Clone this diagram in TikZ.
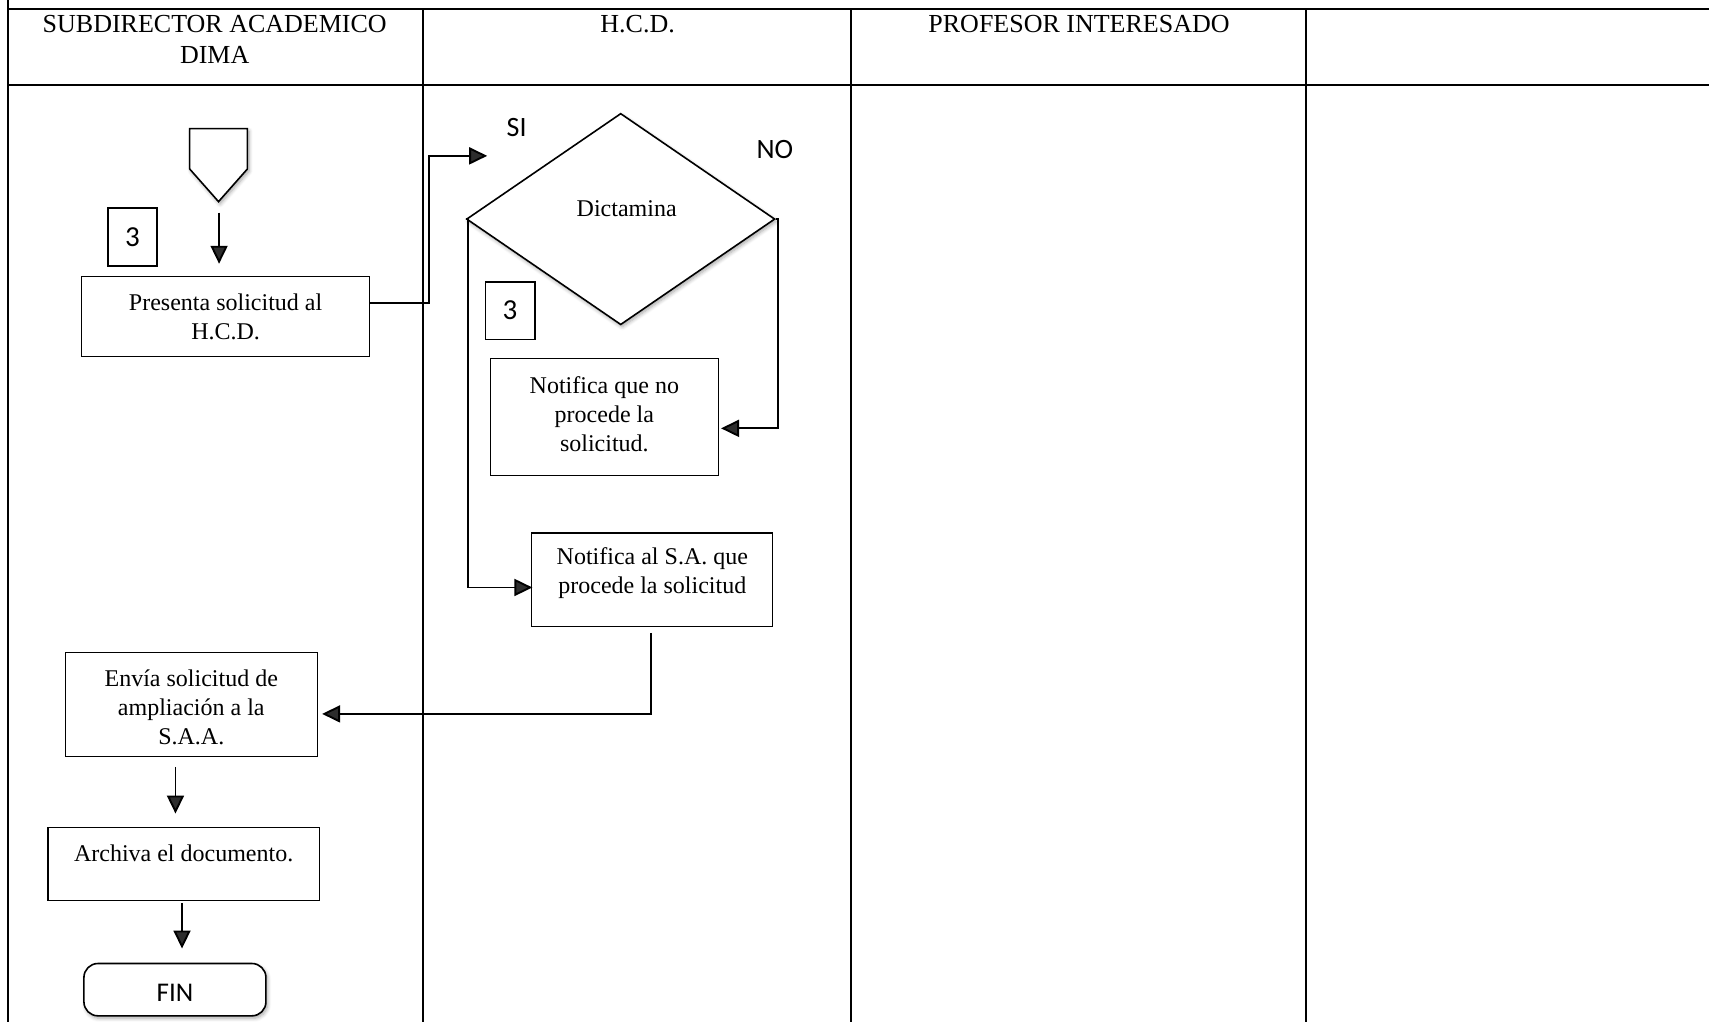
\documentclass[tikz,border=0pt]{standalone}
\usepackage{fontspec}
\setmainfont{Liberation Serif}
\newfontfamily\calib{Carlito}
\usetikzlibrary{arrows.meta,shapes.geometric,shadows.blur,calc}
\def\U{0.545pt}
\begin{document}
\begin{tikzpicture}[x=0.545pt,y=-0.545pt,
  grid/.style={line width=1.1pt},
  box/.style={draw, line width=0.6pt, fill=white, align=center, inner sep=0pt,
    font=\fontsize{12}{14.7}\selectfont},
  boxtext/.style={align=center, inner sep=0pt, font=\fontsize{12}{14.7}\selectfont},
  flow/.style={line width=0.95pt, -{Triangle[length=9pt,width=8.5pt]}},
  head/.style={align=center, inner sep=0pt, font=\fontsize{13}{15.3}\selectfont},
  tag/.style={inner sep=0pt, font=\calib\fontsize{14}{16}\selectfont},
  numbox/.style={draw, line width=0.9pt, minimum width=45*\U, minimum height=53*\U,
    inner sep=0pt, font=\calib\fontsize{14.5}{16}\selectfont},
  soft/.style={blur shadow={shadow xshift=0.8pt, shadow yshift=-1.2pt,
    shadow blur steps=6, shadow opacity=35}}
]
\useasboundingbox (0,0) rectangle (1568,938);

% swimlane table
\draw[grid] (7,0) -- (7,938);
\draw[grid] (7,8) -- (1568,8);
\draw[grid] (7,78) -- (1568,78);
\foreach \x in {388,781,1198} \draw[grid] (\x,8) -- (\x,938);

\node[head] (h1) at (197,36) {SUBDIRECTOR ACADEMICO\\DIMA};
\node[head] (h2) at (585,22) {H.C.D.};
\node[head] (h3) at (990,22) {PROFESOR INTERESADO};

% off-page connector
\draw[soft, line width=0.8pt, fill=white] (174,118) -- (227,118) -- (227,155)
  -- (200.5,185) -- (174,155) -- cycle;
\coordinate (conn) at (200.5,185);

\node[numbox] (n1) at (121.5,217.5) {3};
\node[box, minimum width=264*\U, minimum height=73*\U] (pres) at (207,290.5)
  {Presenta solicitud al\\H.C.D.};
\draw[flow] ($(conn)+(0.5,10)$) -- ($(conn)+(0.5,57)$);

% decision
\node[draw, diamond, soft, fill=white, line width=0.8pt, inner sep=0pt,
  minimum width=283*\U, minimum height=194*\U] (dic) at (569.5,201) {};
\node[boxtext] (dictxt) at (575,191) {Dictamina};
\coordinate (siend) at (447,143);
\draw[flow] ($(pres.east)+(0,-12.5)$) -- ++(54,0) |- (siend);

\node[tag] (si) at (474,117) {SI};
\node[tag] (no) at (711,137) {NO};

\node[numbox] (n2) at (468,285) {3};
\node[box, minimum width=209*\U, minimum height=107*\U] (nop) at (554.5,382.5) {};
\node[boxtext] (noptxt) at (554.5,380) {Notifica que no\\procede la\\solicitud.};
\draw[flow] (dic.east) -- ++(2,0) |- ($(nop.east)+(2,10.5)$);

\node[box, minimum width=221*\U, minimum height=86*\U] (proc) at (598.5,532) {};
\node[boxtext] (proctxt) at (598.5,526) {Notifica al S.A. que\\procede la solicitud};
\draw[flow] (dic.west) -- ++(2,0) |- ($(proc.west)+(1,7)$);

\node[box, minimum width=231*\U, minimum height=95*\U] (env) at (175.5,646.5) {};
\node[boxtext] (envtxt) at (175.5,649) {Envía solicitud de\\ampliación a la\\S.A.A.};
\draw[flow] ($(proc.south)+(-1.5,5)$) |- ($(env.east)+(4,8.5)$);

\node[box, minimum width=249*\U, minimum height=67*\U] (arch) at (168.5,792.5) {};
\node[boxtext] (archtxt) at (168.5,783) {Archiva el documento.};
\draw[flow] ($(env.south)+(-14.5,9)$) -- ($(arch.north)+(-7.5,-12)$);

\node[draw, rounded corners=7pt, soft, fill=white, line width=0.8pt,
  minimum width=167*\U, minimum height=48*\U, inner sep=0pt] (fin) at (160.5,908) {};
\node[tag, font=\calib\fontsize{13.5}{15}\selectfont] (fintxt) at (160.5,911) {FIN};
\draw[flow] ($(arch.south)+(-1.5,2)$) -- ($(fin.north)+(6.5,-13)$);
\end{tikzpicture}
\end{document}
